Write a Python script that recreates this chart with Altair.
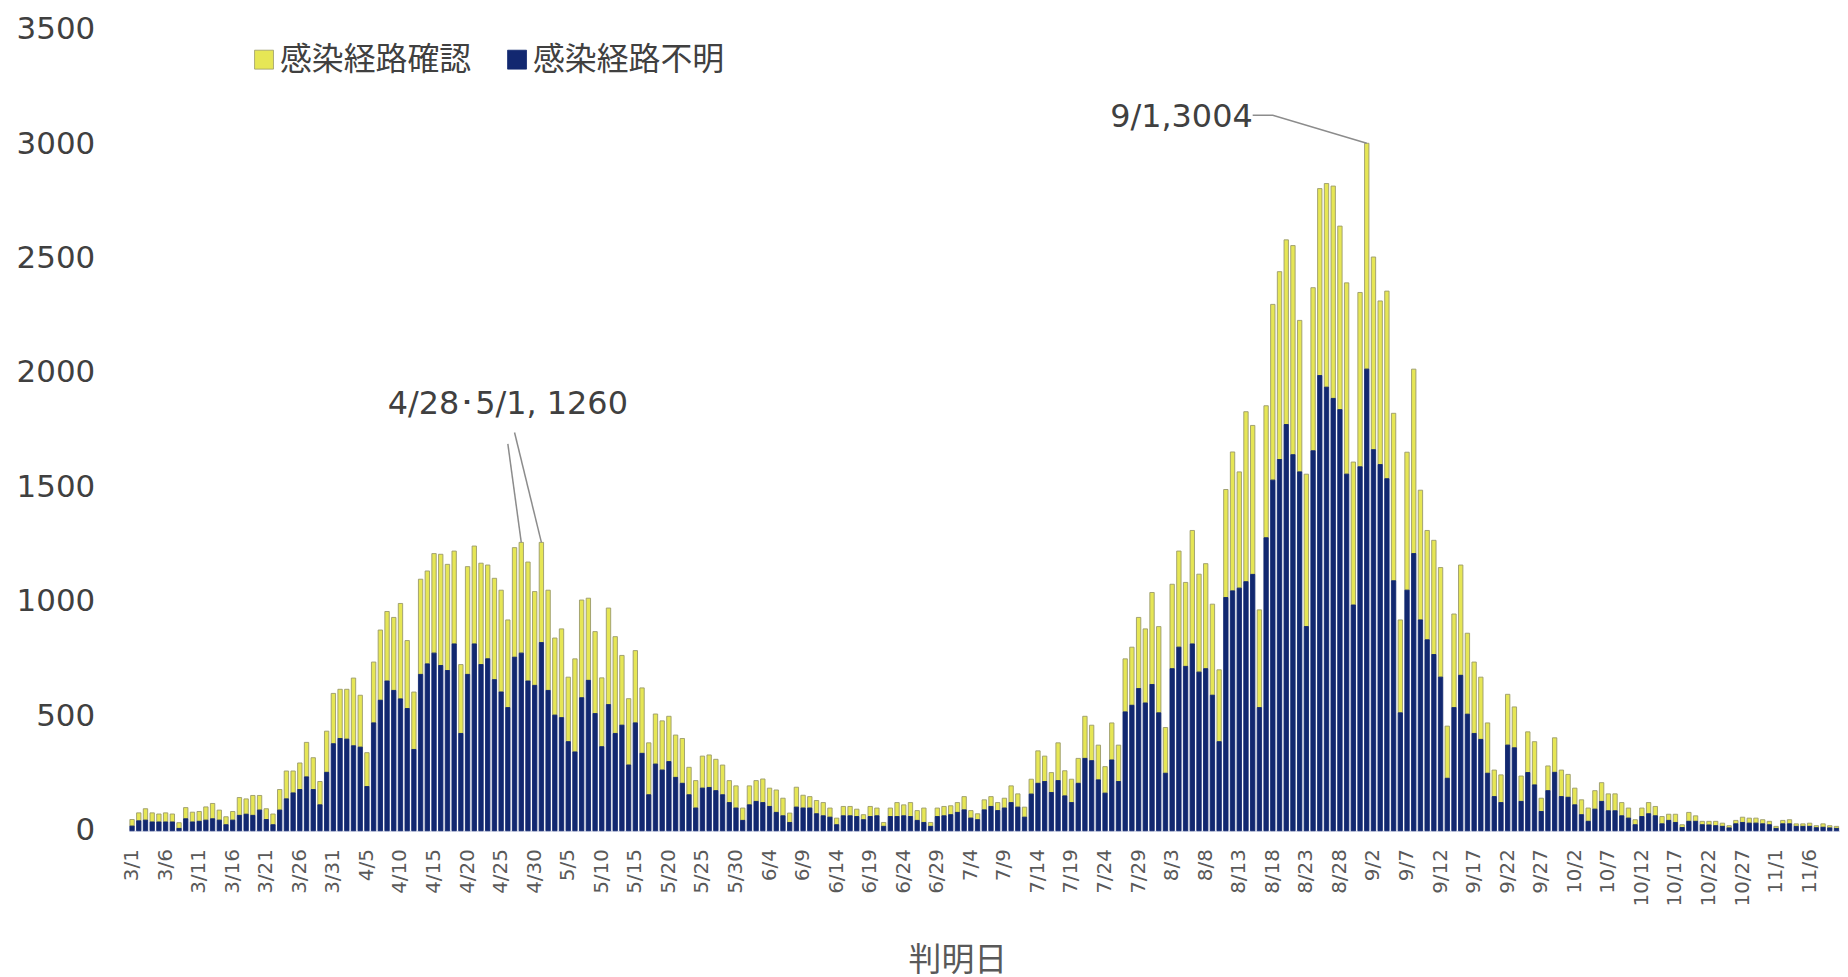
import altair as alt
import pandas as pd

# Category axis: one bar per day, 2021-03-01 .. 2021-11-10
dates = [f"{d.month}/{d.day}" for d in pd.date_range("2021-03-01", "2021-11-10")]
tick_labels = dates[::5]

series_names = ["感染経路確認", "感染経路不明"]

# 感染経路不明 (navy, bottom of each bar)
unknown = [
    20, 43, 46, 38, 38, 38, 38, 10, 52, 38,
    41, 46, 52, 46, 26, 46, 67, 72, 67, 90,
    49, 26, 90, 139, 165, 180, 235, 180, 113, 255,
    380, 403, 400, 371, 365, 193, 471, 570, 654, 613,
    576, 534, 355, 683, 729, 776, 722, 700, 816, 425,
    683, 816, 726, 751, 660, 606, 538, 758, 776, 654,
    635, 822, 613, 505, 494, 389, 344, 581, 657, 512,
    367, 551, 425, 461, 287, 471, 338, 157, 291, 265,
    302, 233, 207, 157, 99, 186, 189, 175, 157, 123,
    99, 45, 113, 128, 123, 106, 80, 65, 36, 103,
    99, 99, 74, 65, 59, 26, 65, 65, 62, 48,
    62, 65, 19, 62, 62, 65, 62, 45, 36, 19,
    62, 65, 70, 80, 91, 55, 48, 91, 106, 88,
    99, 123, 103, 59, 160, 207, 215, 167, 219, 152,
    123, 207, 316, 306, 222, 164, 309, 215, 519, 548,
    621, 558, 639, 515, 251, 708, 802, 718, 816, 693,
    708, 592, 389, 1019, 1048, 1060, 1088, 1120, 538, 1280,
    1532, 1622, 1775, 1643, 1568, 892, 1660, 1989, 1938, 1889,
    1840, 1558, 986, 1590, 2017, 1665, 1600, 1538, 1092, 515,
    1051, 1211, 921, 834, 770, 671, 229, 538, 679, 509,
    425, 399, 251, 149, 123, 374, 362, 128, 254, 200,
    84, 175, 255, 149, 146, 113, 70, 41, 94, 128,
    87, 87, 65, 55, 26, 62, 74, 65, 30, 45,
    36, 14, 41, 41, 26, 25, 22, 19, 12, 30,
    36, 33, 33, 30, 26, 10, 30, 30, 19, 19,
    19, 13, 15, 12, 10,
]

# 感染経路確認 (yellow, stacked on top)
confirmed = [
    29, 35, 50, 40, 35, 40, 35, 25, 49, 43,
    43, 58, 67, 44, 35, 38, 78, 67, 87, 64,
    47, 47, 90, 122, 96, 116, 151, 139, 102, 180,
    220, 215, 218, 296, 227, 148, 266, 307, 304, 319,
    417, 297, 251, 416, 406, 435, 486, 464, 406, 301,
    471, 428, 443, 410, 443, 445, 383, 479, 484, 520,
    410, 438, 438, 337, 388, 282, 407, 427, 359, 358,
    301, 422, 423, 305, 290, 316, 286, 227, 219, 215,
    198, 185, 196, 120, 120, 140, 142, 137, 130, 96,
    97, 54, 83, 91, 103, 80, 98, 77, 41, 87,
    56, 50, 58, 58, 40, 29, 41, 41, 32, 22,
    44, 34, 17, 37, 61, 48, 61, 43, 63, 17,
    37, 41, 39, 43, 58, 33, 26, 44, 43, 35,
    43, 73, 58, 44, 65, 142, 111, 87, 165, 110,
    102, 109, 184, 155, 152, 116, 162, 159, 232, 254,
    311, 324, 402, 377, 200, 369, 420, 367, 496, 428,
    459, 398, 314, 472, 607, 508, 743, 651, 427, 577,
    768, 821, 807, 914, 662, 666, 713, 817, 890, 928,
    802, 836, 625, 762, 987, 842, 715, 820, 732, 406,
    603, 806, 567, 478, 499, 479, 228, 409, 482, 354,
    312, 272, 220, 116, 121, 222, 179, 111, 178, 189,
    58, 108, 151, 116, 100, 73, 65, 58, 81, 82,
    74, 74, 58, 44, 22, 37, 49, 41, 32, 27,
    36, 12, 39, 24, 15, 16, 19, 14, 10, 15,
    23, 22, 22, 18, 15, 9, 15, 18, 11, 11,
    14, 9, 15, 10, 9,
]

# Annotation texts and their anchors
peak1_label = "4/28･5/1, 1260"
peak1_dates = ["4/28", "5/1"]
peak1_value = 1260
peak2_label = "9/1,3004"
peak2_date = "9/1"
peak2_value = 3004

df = pd.concat([
    pd.DataFrame({"date": dates, "value": confirmed, "series": series_names[0], "rank": 1}),
    pd.DataFrame({"date": dates, "value": unknown, "series": series_names[1], "rank": 0}),
], ignore_index=True)

W, H = 1718, 804
xscale = alt.Scale(domain=dates, paddingInner=0.35, paddingOuter=0.2)
yscale = alt.Scale(domain=[0, 3500], nice=False)

bars = alt.Chart(df).mark_bar(strokeWidth=0.9).encode(
    x=alt.X("date:O", sort=dates, scale=xscale,
            axis=alt.Axis(values=tick_labels, labelAngle=-90, title="判明日",
                          labelFont="DejaVu Sans", labelFontSize=20, labelColor="#595959",
                          labelPadding=18, ticks=False, domain=True, domainColor="#c5cbe0",
                          domainWidth=1, grid=False,
                          titleFont="Noto Sans CJK JP", titleFontSize=33, titleX=832,
                          titleFontWeight="normal", titleColor="#595959", titlePadding=39)),
    y=alt.Y("value:Q", stack="zero", scale=yscale,
            axis=alt.Axis(values=list(range(0, 3501, 500)), title=None, format="d",
                          labelFont="DejaVu Sans", labelFontSize=31, labelColor="#404040",
                          labelPadding=34, ticks=False, domain=False, grid=False)),
    color=alt.Color("series:N", scale=alt.Scale(domain=series_names, range=["#E6E655", "#122870"]),
                    legend=alt.Legend(orient="none", legendX=120, legendY=14, direction="horizontal",
                                      title=None, symbolType="square", symbolSize=361,
                                      symbolStrokeWidth=0.8, symbolStrokeColor="#b8b8a0",
                                      labelFont="Noto Sans CJK JP", labelFontSize=32,
                                      labelLimit=0,
                                      labelColor="#404040", labelOffset=0, columnPadding=29,
                                      padding=0)),
    stroke=alt.Stroke("series:N", scale=alt.Scale(domain=series_names, range=["#9a9a6a", "#122870"]),
                      legend=None),
    order=alt.Order("rank:Q"),
)

# leader lines for the April peaks
ann1 = pd.DataFrame({
    "x": ["4/26", "4/27"], "x2": peak1_dates,
    "y": [1690, 1740], "y2": [peak1_value, peak1_value],
})
rules1 = alt.Chart(ann1).mark_rule(color="#8c8c8c", strokeWidth=1.5).encode(
    x=alt.X("x:O", sort=dates, scale=xscale),
    x2="x2",
    y=alt.Y("y:Q", scale=yscale),
    y2="y2",
)
text1 = alt.Chart(pd.DataFrame({"x": ["4/26"], "y": [1863], "t": [peak1_label]})).mark_text(
    font="DejaVu Sans", fontSize=32, color="#404040", align="center", baseline="middle", dx=0
).encode(x=alt.X("x:O", sort=dates, scale=xscale), y=alt.Y("y:Q", scale=yscale), text="t:N")

# leader line for the 9/1 peak
ann2 = pd.DataFrame({"x": ["8/15", "8/18", peak2_date], "y": [3126, 3126, peak2_value], "i": [0, 1, 2]})
line2 = alt.Chart(ann2).mark_line(color="#8c8c8c", strokeWidth=1.5).encode(
    x=alt.X("x:O", sort=dates, scale=xscale),
    y=alt.Y("y:Q", scale=yscale),
    order="i:Q",
)
text2 = alt.Chart(pd.DataFrame({"x": ["8/15"], "y": [3120], "t": [peak2_label]})).mark_text(
    font="DejaVu Sans", fontSize=32, color="#404040", align="right", baseline="middle", dx=0
).encode(x=alt.X("x:O", sort=dates, scale=xscale), y=alt.Y("y:Q", scale=yscale), text="t:N")

chart = alt.layer(bars, rules1, text1, line2, text2).properties(
    width=W, height=H, background="white",
    padding={"left": 8, "top": 4, "right": 0, "bottom": 0},
).configure_view(stroke=None)

chart.save("out.html", embed_options={"renderer": "svg", "actions": False})
